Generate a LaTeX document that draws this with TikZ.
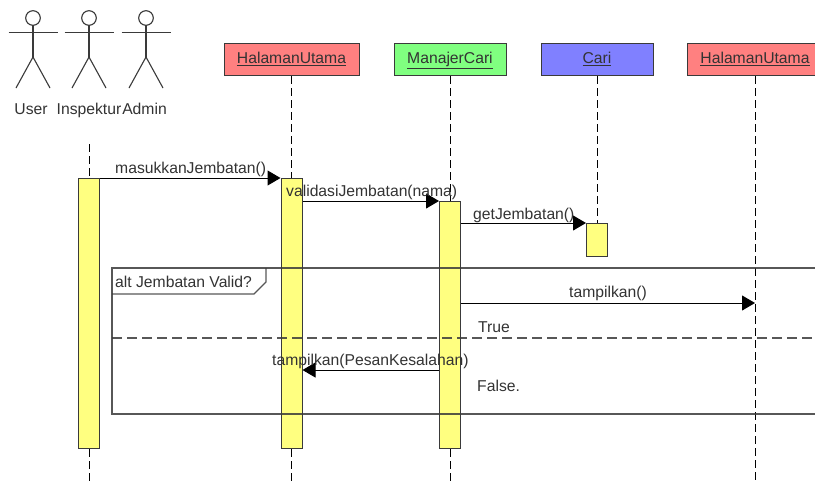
\documentclass[tikz,border=0pt]{standalone}
\usepackage{fontspec}
\setmainfont{Liberation Sans}
\usetikzlibrary{arrows.meta,calc}
\definecolor{txt}{HTML}{333333}
\definecolor{ln}{HTML}{3A3A3A}
\definecolor{hred}{HTML}{FF8080}
\definecolor{hgreen}{HTML}{80FF80}
\definecolor{hblue}{HTML}{8080FF}
\definecolor{hyel}{HTML}{FFFF80}
\begin{document}
\begin{tikzpicture}[x=1pt,y=-1pt,
  every node/.style={font=\fontsize{15.7}{18}\selectfont, text=txt},
  objbox/.style={draw=ln, line width=1pt, minimum height=32pt, inner sep=0pt, text height=11pt, text depth=3pt},
  actbar/.style={draw=ln, line width=1pt, fill=hyel, minimum width=21pt, inner sep=0pt, anchor=north},
  life/.style={draw=black, line width=1pt, dash pattern=on 8pt off 4pt},
  msg/.style={draw=black, line width=1pt, -{Triangle[length=13pt,width=15pt]}},
  lbl/.style={inner sep=0pt, anchor=base west},
  actor/.style={draw=ln, line width=1.1pt},
  frameline/.style={draw=ln, line width=1.1pt, draw opacity=0.85}
]
\useasboundingbox[fill=white] (0,0) rectangle (815,483);

% actors
\foreach \n/\x in {user/33, insp/89, admin/146} {
  \coordinate (\n) at (\x,18);
  \draw[actor] (\n) circle[radius=7.3pt];
  \draw[actor] ($(\n)+(0,7.3)$) -- ($(\n)+(0,39)$);
  \draw[actor] ($(\n)+(-24.5,14.5)$) -- ($(\n)+(24.5,14.5)$);
  \draw[actor] ($(\n)+(-17,70)$) -- ($(\n)+(0,39)$) -- ($(\n)+(17,70)$);
}
\node[anchor=base, inner sep=0pt] (userlbl) at (31,114.3) {User};
\node[anchor=base, inner sep=0pt] (insplbl) at (89,114.3) {Inspektur};
\node[anchor=base, inner sep=0pt] (adminlbl) at (144.5,114.3) {Admin};

% object boxes
\node[objbox, fill=hred, minimum width=135pt] (hu1) at (291.5,59.5) {\underline{HalamanUtama}};
\node[objbox, fill=hgreen, minimum width=112pt] (mc) at (450,59.5) {\underline{ManajerCari}};
\node[objbox, fill=hblue, minimum width=112pt] (cari) at (597,59.5) {\underline{Cari}};
\node[objbox, fill=hred, minimum width=136pt] (hu2) at (755,59.5) {\underline{HalamanUtama}};

% activation bars (nodes)
\node[actbar, minimum height=270pt] (barI) at (89,178) {};
\node[actbar, minimum height=270pt] (barH) at (291.5,178) {};
\node[actbar, minimum height=247pt] (barM) at (450,201) {};
\node[actbar, minimum height=33pt] (barC) at (597,223) {};

% lifeline end points
\coordinate (inspTop) at (89,144);
\coordinate (endI) at (89,490);
\coordinate (endH) at (291.5,490);
\coordinate (endM) at (450,490);
\coordinate (endH2) at (755,490);

% lifelines
\draw[life] (inspTop) -- (barI.north);
\draw[life] (barI.south) -- (endI);
\draw[life] (hu1.south) -- (barH.north);
\draw[life] (barH.south) -- (endH);
\draw[life] (mc.south) -- (barM.north);
\draw[life] (barM.south) -- (endM);
\draw[life] (cari.south) -- (barC.north);
\draw[life] (hu2.south) -- (endH2);

% alt frame
\draw[frameline] (112,268) rectangle (830,414);
\draw[frameline] (112,294) -- (254,294) -- (266,282) -- (266,268);
\draw[frameline, dash pattern=on 10pt off 5pt] (112,338) -- (830,338);
\node[lbl] (altlbl) at (115,287) {alt Jembatan Valid?};

% messages
\coordinate (yT) at (0,303);
\coordinate (yP) at (0,370);
\draw[msg] (barI.north east) -- (barH.north west);
\draw[msg] (barH.east |- barM.north) -- (barM.north west);
\draw[msg] (barM.east |- barC.north) -- (barC.north west);
\draw[msg] (barM.east |- yT) -- (hu2.south |- yT);
\draw[msg] (barM.west |- yP) -- (barH.east |- yP);

% message labels
\node[lbl] (m1) at (115,173.3) {masukkanJembatan()};
\node[lbl] (m2) at (286,196) {validasiJembatan(nama)};
\node[lbl] (m3) at (473,219) {getJembatan()};
\node[lbl] (m4) at (569,297.7) {tampilkan()};
\node[lbl] (g1) at (478,332.7) {True};
\node[lbl] (m5) at (272,365) {tampilkan(PesanKesalahan)};
\node[lbl] (g2) at (477,391.7) {False.};
\end{tikzpicture}
\end{document}
